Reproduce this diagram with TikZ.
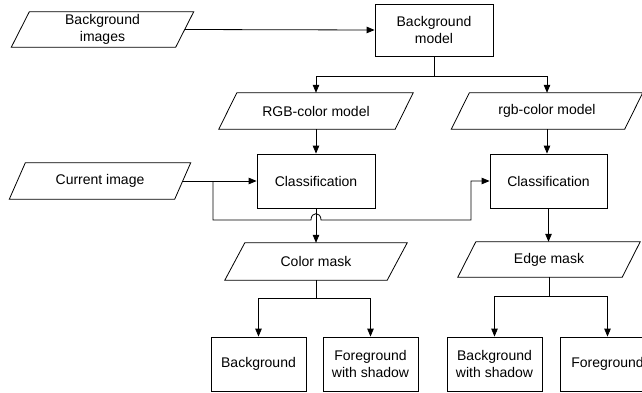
\documentclass[tikz,border=0pt]{standalone}
\usepackage{fontspec}
\setmainfont{Liberation Sans}
\usetikzlibrary{arrows.meta}
\newcommand\drawpara[2][9pt]{\draw[outl] ([xshift=#1]#2.north west) -- ([xshift=#1]#2.north east) -- ([xshift=-#1]#2.south east) -- ([xshift=-#1]#2.south west) -- cycle;}
\begin{document}
\begin{tikzpicture}[x=1pt,y=-1pt,
  outl/.style={line width=0.8pt,black},
  txt/.style={inner sep=0pt,align=center,font=\fontsize{14}{16.5}\selectfont},
  boxn/.style={txt,draw,line width=0.8pt,minimum width=#1,minimum height=54pt},
  boxn/.default=95pt,
  paran/.style={txt,minimum width=#1,minimum height=36pt},
  conn/.style={line width=0.8pt},
  arr/.style={conn,-{Triangle[length=8pt,width=6.5pt]}}]
\useasboundingbox (0,0) rectangle (642,393);
% nodes
\node[paran=164pt,minimum height=35pt] (bgimg) at (102.5,29.5) {Background\\images};
\node[boxn=118pt,minimum height=52pt] (bgmodel) at (434,30) {Background\\model};
\node[paran=176pt] (rgbL) at (316,111) {RGB-color model};
\node[paran=173pt] (rgbR) at (547,111) {rgb-color model};
\node[boxn=118pt] (clsL) at (316,181) {Classification};
\node[boxn=117pt] (clsR) at (548.5,181) {Classification};
\node[paran=165pt] (cur) at (100,181) {Current image};
\node[paran=162pt,minimum height=37pt] (cmask) at (316,261.5) {Color mask};
\node[paran=164pt,minimum height=35pt] (emask) at (549,259.5) {Edge mask};
\node[boxn] (bg) at (258.5,364) {Background};
\node[boxn] (fgs) at (370.5,364) {Foreground\\with shadow};
\node[boxn] (bgs) at (494.5,364) {Background\\with shadow};
\node[boxn] (fg) at (607.5,364) {Foreground};
% parallelogram outlines
\drawpara{bgimg}
\drawpara{rgbL}
\drawpara{rgbR}
\drawpara[8pt]{cur}
\drawpara[10pt]{cmask}
\drawpara{emask}
% helper coordinates
\coordinate (b1) at (434,76);
\coordinate (j0) at (213,181);
\coordinate (j1) at (213,220);
\coordinate (jA) at (311,220);
\coordinate (jB) at (321,220);
\coordinate (j2) at (471,220);
\coordinate (j3) at (471,181);
\coordinate (c2) at (316,298);
\coordinate (e2) at (549,296);
% connectors
\draw[arr] (bgimg.east) -- (bgmodel.west);
\draw[conn] (bgmodel.south) -- (b1);
\draw[arr] (b1) -| (rgbL.north);
\draw[arr] (b1) -| (rgbR.north);
\draw[arr] (rgbL.south) -- (clsL.north);
\draw[arr] (rgbR.south) -- (clsR.north -| rgbR.south);
\draw[arr] (cur.east) -- (clsL.west);
\draw[arr] (j0) -- (j1) -- (jA) .. controls (311,211.5) and (321,211.5) .. (jB) -- (j2) -- (j3) -- (clsR.west);
\draw[arr] (clsL.south) -- (cmask.north);
\draw[arr] (clsR.south) -- (clsR.south |- emask.north);
\draw[conn] (cmask.south) -- (c2);
\draw[arr] (c2) -| (bg.north);
\draw[arr] (c2) -| (fgs.north);
\draw[conn] (emask.south) -- (e2);
\draw[arr] (e2) -| (bgs.north);
\draw[arr] (e2) -| (fg.north);
\end{tikzpicture}
\end{document}
